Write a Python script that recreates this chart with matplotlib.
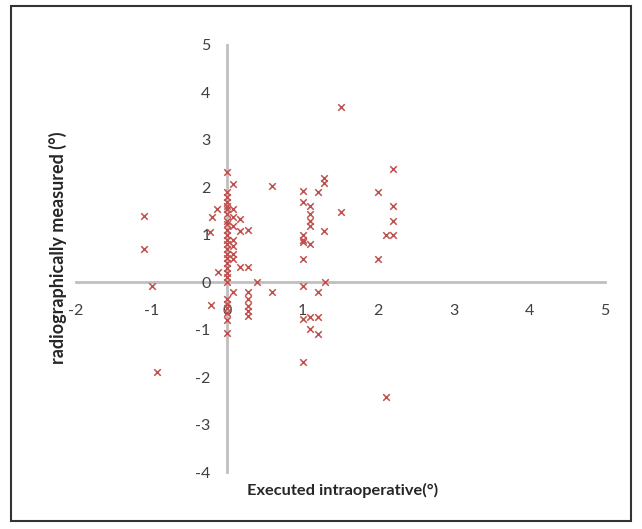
import matplotlib
matplotlib.use("Agg")
import matplotlib.pyplot as plt
from matplotlib.patches import Rectangle

# Data (Executed intraoperative vs radiographically measured)
x_vals = [
    -1.1, -1.1, -1.0, -0.93,
    -0.21, -0.2, -0.23, -0.13, -0.12,
    0.0, 0.0, 0.0, 0.0, 0.0, 0.0, 0.0, 0.0, 0.0, 0.0, 0.0, 0.0, 0.0, 0.0,
    0.0, 0.0, 0.0, 0.0, 0.0, 0.0, 0.0, 0.0, 0.0, 0.0, 0.0, 0.0, 0.0,
    0.08, 0.08, 0.08, 0.08, 0.08, 0.08, 0.08, 0.08, 0.08,
    0.17, 0.17, 0.17,
    0.28, 0.28, 0.28, 0.28, 0.28, 0.28, 0.28,
    0.4, 0.6, 0.6,
    1.0, 1.0, 1.0, 1.0, 1.0, 1.0, 1.0, 1.0, 1.0,
    1.1, 1.1, 1.1, 1.1, 1.1, 1.1, 1.1,
    1.2, 1.2, 1.2, 1.2,
    1.28, 1.28, 1.28, 1.3,
    1.5, 1.5,
    2.0, 2.0,
    2.1, 2.1,
    2.2, 2.2, 2.2, 2.2,
]
y_vals = [
    1.4, 0.7, -0.08, -1.9,
    -0.48, 1.37, 1.06, 1.54, 0.22,
    2.32, 1.9, 1.8, 1.7, 1.6, 1.54, 1.43, 1.3, 1.22, 1.1, 1.0, 0.9, 0.8, 0.7,
    0.6, 0.5, 0.4, 0.3, 0.2, 0.1, 0.0, -0.35, -0.45, -0.55, -0.65, -0.8, -1.07,
    2.08, 1.54, 1.37, 1.18, 0.9, 0.76, 0.59, 0.48, -0.2,
    1.33, 1.07, 0.32,
    1.1, 0.32, -0.2, -0.36, -0.5, -0.6, -0.72,
    0.0, 2.02, -0.2,
    1.93, 1.7, 1.0, 0.9, 0.84, 0.48, -0.08, -0.78, -1.69,
    1.6, 1.43, 1.28, 1.18, 0.8, -0.73, -0.99,
    1.9, -0.2, -0.73, -1.1,
    2.2, 2.1, 1.07, 0.0,
    3.7, 1.47,
    1.9, 0.48,
    1.0, -2.42,
    2.38, 1.6, 1.3, 1.0,
]

x_ticks = [-2, -1, 0, 1, 2, 3, 4, 5]
y_ticks = [-4, -3, -2, -1, 0, 1, 2, 3, 4, 5]
x_label = "Executed intraoperative(°)"
y_label = "radiographically measured (°)"

plt.rcParams['font.family'] = ['Lato', 'DejaVu Sans']

fig = plt.figure(figsize=(6.42, 5.29), dpi=100)
ax = fig.add_axes([76/642, 1 - 472/529, (605-76)/642, (472-45)/529])

ax.scatter(x_vals, y_vals, marker='x', s=22, color='#C0504D', linewidths=1.1, zorder=3)

ax.set_xlim(-2, 5)
ax.set_ylim(-4, 5)
ax.set_xticks(x_ticks)
ax.set_yticks(y_ticks)
ax.set_xticklabels([str(t) for t in x_ticks])
ax.set_yticklabels([str(t) for t in y_ticks])

for s in ['top', 'right']:
    ax.spines[s].set_visible(False)
ax.spines['left'].set_position(('data', 0))
ax.spines['bottom'].set_position(('data', 0))
for s in ['left', 'bottom']:
    ax.spines[s].set_color('#BFBFBF')
    ax.spines[s].set_linewidth(2)
    ax.spines[s].set_zorder(1)

ax.tick_params(axis='x', length=0, pad=16, labelsize=11.5, colors='#404040')
ax.tick_params(axis='y', length=0, pad=12, labelsize=11.5, colors='#404040')
ax.set_facecolor('none')

fig.text(58/642, 1 - 248/529, y_label, rotation=90, ha='center', va='center',
         fontsize=13, fontweight='bold', color='#262626')
fig.text(343/642, 1 - 490/529, x_label, ha='center', va='center',
         fontsize=11.8, fontweight='bold', color='#262626')

fig.patches.append(Rectangle((11/642, 1 - 521/529), (631-11)/642, (521-6)/529,
                             transform=fig.transFigure, fill=False,
                             edgecolor='#333333', linewidth=1.5))

fig.savefig('out.png', dpi=100)
